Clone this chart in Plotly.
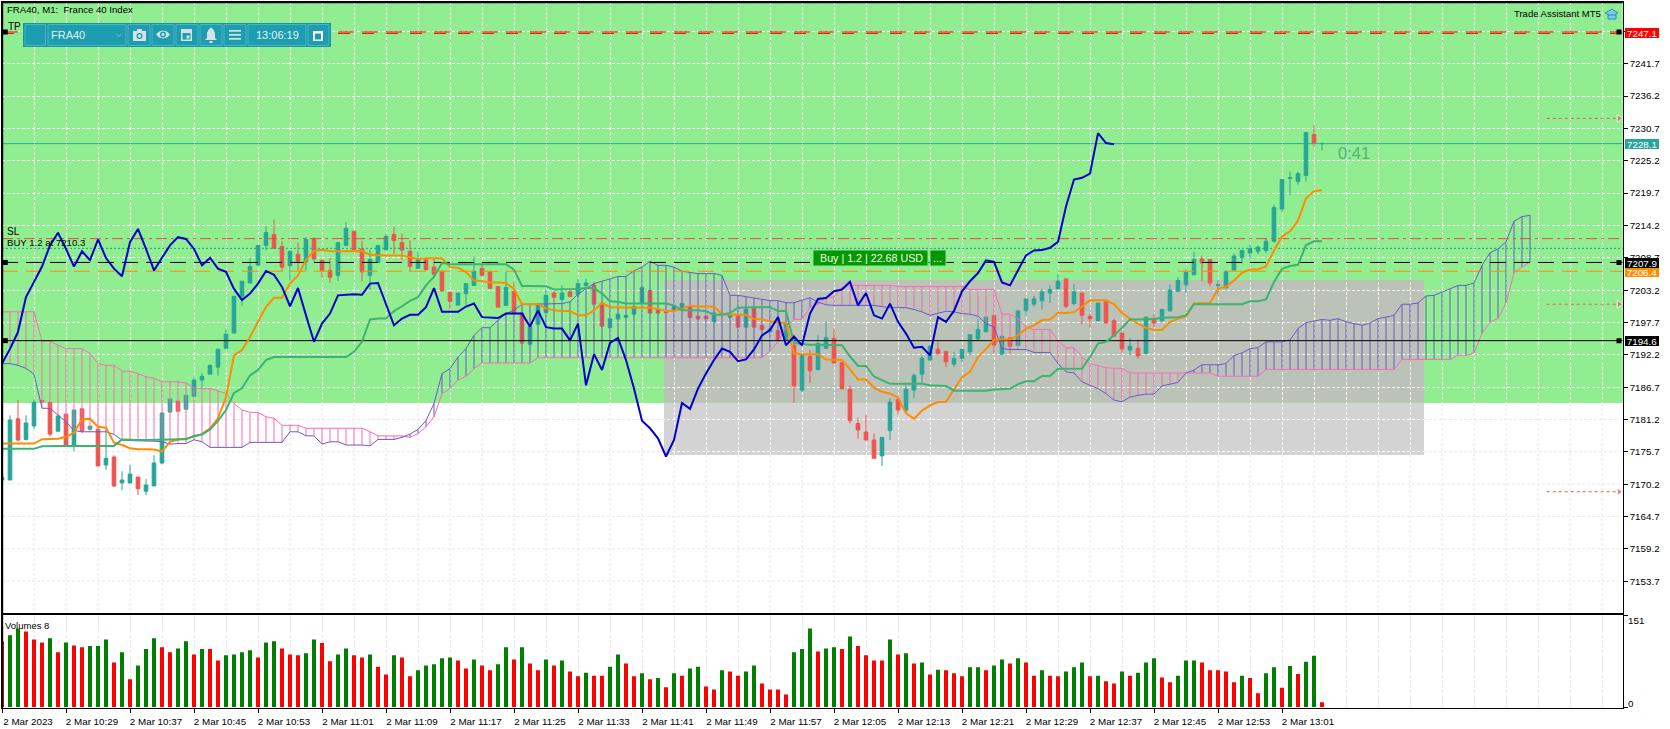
import plotly.graph_objects as go

opens = [7170.9,7170.9,7181.3,7177.8,7180.1,7184.4,7184.1,7179.2,7182.1,7176.85,
7183,7179.55,7179.55,7173.45,7174.8,7170.4,7170.4,7171.4,7169,7169.9,
7173.8,7182.45,7184.3,7182.95,7185.15,7187.9,7188.9,7190.1,7193.3,7195.9,
7202.15,7204.4,7207.45,7210.8,7212.65,7210.6,7207.4,7209.3,7208,7211.8,
7208.25,7206.55,7205.7,7210.8,7213.2,7210.2,7205.7,7207.9,7210.05,7212.65,
7211.3,7209.8,7206.9,7208.35,7207.1,7206.4,7202.8,7200.65,7202.6,7204,
7206.9,7206.25,7203.8,7200.6,7203,7199.3,7194,7197.4,7199.4,7202.7,
7201.6,7202.9,7202.5,7204,7204,7201,7196.8,7198.3,7198.6,7199.1,
7201,7203.15,7199.85,7199.6,7199.75,7199.8,7200.3,7198.75,7198.75,7197.8,
7199.05,7198.6,7198.9,7196.9,7200.1,7197.2,7196.1,7196.3,7194.7,7193.8,
7186.2,7191.9,7189.7,7193.3,7195,7190.9,7186.3,7180.5,7179.05,7177.7,
7175,7179.3,7184.6,7182.7,7186.2,7188.9,7191.3,7193.15,7192.75,7190.6,
7191.6,7192.7,7194.9,7196.1,7198.9,7192.3,7195.1,7193.8,7199.75,7200.8,
7201.4,7202.7,7203.4,7205.1,7200.9,7202.7,7198.7,7198,7201.2,7198,
7195.9,7193,7193.3,7192.4,7198.35,7198,7199.65,7203,7204.1,7205.8,
7208.5,7208.4,7204,7203.6,7206.6,7208.7,7209.5,7209.8,7209.95,7211.5,
7217,7222.2,7221.65,7222.7,7229.65,7228.1]
highs = [7171.5,7181.9,7184.5,7181.9,7184.65,7184.5,7184.2,7181.8,7182.2,7182.8,
7183,7180.1,7179.6,7179.4,7175.1,7172.4,7173.45,7171.4,7171.05,7175.1,
7182.3,7184.65,7184.3,7185.3,7188.4,7189.1,7190.4,7193.15,7196.55,7202.15,
7204.7,7208.7,7210.8,7214.05,7215.2,7211.5,7209.8,7211.3,7212.2,7212.2,
7208.5,7208.7,7211.3,7214.8,7213.2,7211.6,7210.1,7210.8,7212.8,7214,
7212.8,7211.65,7209.7,7208.4,7208.5,7206.4,7202.8,7202.7,7204.3,7208.9,
7207.7,7206.5,7203.8,7206.25,7204.6,7199.3,7197,7200.8,7203.3,7203,
7204,7203.2,7205.1,7205.1,7204.6,7201,7198.3,7199.1,7198.9,7200.4,
7203.7,7203.2,7199.9,7199.6,7200.4,7200.9,7200.4,7198.75,7198.75,7199.3,
7199.3,7199,7198.9,7199.9,7200.1,7197.2,7196.6,7196.3,7197.5,7195.5,
7192.1,7193,7195.5,7197.8,7196.7,7190.9,7187,7181.5,7182,7178.8,
7178.15,7184.8,7184.8,7187,7189,7192.1,7193.9,7194.7,7192.75,7192.7,
7193.1,7195.6,7198.3,7198.7,7198.9,7195.35,7195.1,7199.7,7201.7,7202.2,
7203.4,7204,7206,7205.1,7204.2,7202.7,7199.2,7201,7201.2,7198.3,
7195.9,7195,7194.8,7198.6,7199.2,7200,7204.1,7205.4,7206.8,7209.7,
7209.1,7208.4,7204.85,7206.6,7209.4,7209.95,7210.9,7210.8,7211.9,7217.75,
7222,7223.35,7223.35,7230,7231.2,7228.2]
lows = [7170.7,7170.9,7177.6,7177.6,7179.6,7184.1,7178.3,7179.2,7176.8,7175.8,
7178.9,7179.5,7173.3,7172.6,7169.7,7169.2,7170.4,7168.35,7168.35,7169.9,
7173.6,7182.4,7182.6,7182.9,7185.1,7186.6,7188.9,7188.65,7193.1,7195.9,
7200.5,7204.4,7207.4,7209.95,7210.3,7206.3,7204.85,7206.55,7206.55,7208,
7205.25,7204.4,7204.75,7210.8,7210.1,7204.7,7203.2,7207.9,7210.05,7209.3,
7208.25,7206.3,7206.9,7206.65,7205.9,7203.05,7199.9,7200.65,7200.6,7204,
7205.7,7203.5,7200.3,7200.6,7199.3,7194.2,7194,7197.4,7199.4,7200.8,
7201,7202.1,7202,7203.5,7200.8,7197.05,7196.8,7198.3,7198.6,7199.1,
7201,7199.3,7199.3,7199.4,7199.75,7199.8,7198.5,7198.3,7198.3,7197.8,
7198.9,7198.6,7196.9,7196.9,7196.9,7196.5,7196.1,7194.7,7194.7,7184,
7185.9,7187.4,7189.5,7193.3,7190.7,7186.4,7180.5,7177.9,7177.7,7174.6,
7173.3,7177.7,7182,7182.7,7184.8,7187.3,7191.3,7192.1,7190.1,7190.1,
7191,7192.1,7194.6,7196.1,7192.4,7192.3,7192.4,7193.8,7198.9,7200.4,
7199.9,7201,7203.4,7200.2,7200.6,7197.4,7196.8,7198,7197.6,7195.35,
7192.5,7192.1,7191.5,7192.4,7196.9,7197.7,7199.65,7203,7202.7,7205.8,
7204.7,7203.8,7202.3,7203.3,7206.6,7207.7,7208.4,7209.3,7209.5,7211.3,
7216.5,7219.3,7221.15,7221.65,7227.6,7226.9]
closes = [7171.35,7181.1,7177.7,7180.6,7184.1,7184.2,7178.7,7181.8,7176.85,7182.8,
7179.2,7180.05,7173.3,7174.6,7169.9,7170.9,7171.9,7169.4,7170.05,7173.8,
7182.3,7184.65,7182.6,7185.3,7187.9,7188.55,7190.4,7193.15,7195.7,7202.15,
7204.7,7207.2,7210.8,7213,7210.3,7207.1,7209.8,7208.1,7211.8,7208.5,
7206.55,7205.4,7211.3,7213.7,7210.1,7206.3,7208.4,7210.8,7212.3,7211.65,
7210,7207.25,7208.5,7206.65,7205.9,7203.05,7201.3,7202.7,7204.3,7206.4,
7205.7,7203.5,7200.3,7203.65,7199.3,7194.2,7197,7200.8,7202.3,7202,
7202.7,7202.1,7204.3,7204.4,7200.8,7197.05,7198.3,7199.1,7198.9,7200.4,
7203.6,7199.3,7199.3,7199.4,7200.4,7200.9,7198.55,7198.3,7198.3,7199.3,
7199.2,7198.9,7196.9,7199.9,7196.9,7196.5,7196.6,7194.7,7197.5,7186.9,
7192.1,7189.5,7194.1,7195.1,7190.8,7186.4,7181,7179.4,7177.7,7174.6,
7178.15,7184.15,7182.8,7186.3,7188.7,7191.6,7193.65,7192.4,7191,7191.55,
7193.1,7195.6,7196.5,7198.6,7193.9,7195.35,7193.65,7199.65,7201.7,7201.7,
7202.9,7203.3,7204.7,7200.45,7202.9,7198.9,7198.3,7201,7197.6,7195.35,
7193.2,7193.65,7192,7198.6,7197.6,7199.9,7203.2,7204.85,7206.2,7208.4,
7207.8,7204.4,7204.1,7206.3,7209,7209.95,7210.25,7210.5,7211.5,7217.25,
7222,7222.3,7223,7230,7228.2,7228.15]

chikou = [7190.7,7193.2,7196.1,7202,7204.6,7207.2,7210.8,7212.95,7210.2,7207.2,
7209.8,7208.3,7211.8,7208.65,7206.85,7205.55,7211.35,7213.6,7210.2,7206.55,
7208.7,7210.8,7212.2,7211.9,7210.2,7207.4,7208.7,7206.85,7206.3,7203.4,
7201.5,7202.6,7204.3,7206.45,7205.8,7203.75,7200.45,7203.55,7198.9,7194.4,
7197.5,7199.2,7202.3,7202.4,7202.5,7202.4,7204.3,7204.4,7200.9,7197.2,
7198.35,7199,7199,7200.3,7203.55,7199.5,7199.5,7199.5,7200.4,7200.9,
7198.6,7198.5,7198.45,7199.2,7199.2,7199.2,7197,7199.75,7196.9,7196.65,
7196.65,7194.65,7197.5,7187,7192.3,7189.6,7194.2,7195.05,7191.3,7186.45,
7181,7179.7,7178,7174.9,7177.7,7184,7183,7186.45,7189,7191.3,
7193.25,7192.7,7191.1,7191.4,7193.1,7195.5,7196.4,7198.6,7193.8,7195.3,
7193.8,7199.2,7201.7,7201.85,7203,7203.3,7204.6,7200.6,7202.7,7198.9,
7198.35,7200.9,7197.8,7195.8,7193.4,7193.55,7192.1,7198.6,7197.8,7199.65,
7203,7204.7,7206.1,7208.25,7208,7204.5,7204,7206.55,7209.1,7209.95,
7210,7210.4,7211.4,7217.4,7222,7222.3,7223,7229.9,7228.2,7228]

tenkan = [7177.1,7177.1,7177.1,7177.1,7177.1,7177.85,7177.9,7177.9,7178.25,7178.95,
7181.25,7181.3,7179.95,7179.8,7177.25,7176.85,7176.3,7176.15,7176.15,7176.1,
7175.75,7177.4,7177.8,7177.9,7178.3,7178.7,7179.7,7181.4,7185,7192.1,
7193,7195.2,7197.8,7200.3,7201.9,7201.9,7204.3,7205.7,7208.3,7209.85,
7210.05,7209.85,7209.8,7209.8,7209.8,7209.85,7209.2,7209.1,7209.1,7209.1,
7209.1,7208.8,7208.5,7208.6,7208.6,7208.6,7207.1,7207,7206.25,7204.85,
7204.7,7204.5,7204.5,7204.4,7203.4,7200.8,7200.8,7200.8,7200.1,7199.75,
7199.65,7199.65,7198.9,7198.9,7199.75,7201,7200.3,7200.3,7200.3,7200.3,
7200.3,7200.2,7200,7199.65,7199.65,7200,7200.55,7200.4,7200.4,7200.4,
7199.1,7199,7199,7199,7198.3,7198.2,7197.9,7197.6,7197.6,7192.4,
7192.3,7192.3,7192.3,7191.4,7191.3,7191.3,7189.7,7188,7188,7186.6,
7185.9,7185.6,7184.9,7182.3,7181.3,7182.7,7183.6,7184.15,7184.2,7186.3,
7188.4,7189.3,7191.8,7193.2,7194.7,7194.8,7194.8,7195.5,7196.65,7197.2,
7198.1,7198.2,7199.3,7199.3,7199.45,7200.4,7201.45,7201.45,7201.45,7200.8,
7199.3,7198.35,7197.5,7196.8,7196.4,7196.4,7197.8,7198.35,7198.7,7200.9,
7200.9,7201,7203.4,7203.8,7204.85,7206.15,7206.7,7206.7,7207.2,7209.95,
7212.3,7213.2,7215,7218.8,7220,7220.2]

kijun = [7176.2,7176.2,7176.2,7176.2,7176.2,7176.65,7176.7,7176.7,7176.7,7176.7,
7176.7,7176.7,7176.7,7176.7,7176.7,7177.8,7177.7,7177.7,7177.7,7177.7,
7177.7,7177.8,7177.85,7177.85,7178.4,7178.65,7179.5,7180.95,7182.8,7185.7,
7186.5,7188.7,7189.6,7191.3,7191.8,7191.8,7191.8,7191.8,7191.8,7191.8,
7191.8,7191.8,7191.8,7191.8,7192.7,7194.4,7198.2,7198.35,7198.35,7199.65,
7200.45,7201.35,7202,7204,7205.5,7207.8,7207.6,7207.6,7207.6,7207.6,
7207.6,7207.6,7207.6,7207.6,7206.65,7203.9,7203.9,7203.9,7203.85,7203.3,
7203.3,7203.3,7203.4,7203.55,7203.55,7202.6,7201.3,7201.2,7200.9,7200.9,
7200.9,7200.9,7200.9,7200.9,7200.6,7199.75,7199.75,7199.75,7199.6,7199,
7199,7199.3,7200.2,7200.3,7200.3,7200.3,7200.3,7199.65,7199.65,7194.2,
7194,7193.9,7193.9,7193.9,7193.9,7193.8,7191.9,7190.3,7190.3,7188.5,
7187.9,7187.25,7187.25,7187.25,7187.25,7187.25,7187,7187,7186.9,7186.1,
7186.1,7186.1,7186.1,7186.1,7186.3,7186.4,7186.4,7187.2,7187.7,7187.7,
7188.6,7188.6,7189.8,7189.8,7189.8,7189.8,7191.8,7194.1,7194.4,7195.5,
7196.8,7198.2,7198.2,7198.2,7198.3,7198.5,7198.6,7198.6,7198.9,7200.8,
7200.8,7200.8,7200.8,7200.8,7200.8,7200.8,7201.3,7201.3,7201.6,7204.6,
7206.8,7207.3,7207.5,7210.85,7211.5,7211.5]

span_pink = [7199.5,7199.5,7199.5,7199.5,7199.5,7194.55,7194.55,7193.8,7193.25,7193.25,
7193.25,7192.4,7190.7,7190.4,7190.4,7189.4,7189.4,7189,7188.45,7188.2,
7187.6,7187.6,7187.6,7187.4,7186.6,7186.45,7186.45,7186.05,7185.6,7183.9,
7182.8,7182.4,7182.4,7181.65,7181.4,7180.2,7180.2,7180.2,7179.7,7179.7,
7179.7,7179.7,7179.7,7179.7,7179.7,7179.7,7179.1,7178.4,7178.4,7178.4,
7178.4,7178.15,7178.8,7179.95,7181.65,7185.6,7186.45,7187.9,7188.55,7189.85,
7190.8,7190.8,7190.8,7190.8,7190.8,7190.8,7190.8,7191.7,7191.7,7191.7,
7191.7,7191.7,7191.7,7191.7,7191.7,7191.7,7191.7,7191.7,7191.7,7191.7,
7191.7,7191.7,7191.7,7191.7,7191.7,7191.7,7191.7,7191.7,7191.7,7191.7,
7191.7,7191.7,7191.7,7191.7,7191.7,7191.7,7192.85,7194.4,7196.9,7198.2,
7198.2,7200.3,7200.8,7202,7202,7203.7,7204,7204,7204,7204,
7204,7204,7203.8,7203.8,7203.8,7203.8,7203.8,7203.8,7203.8,7203.8,
7203.8,7203.3,7203.3,7203.3,7203.3,7199.1,7199.1,7198.35,7196.9,7196.5,
7196.5,7196.5,7194.55,7193.4,7193.4,7191.8,7190.7,7190.3,7190,7189.9,
7189.9,7189.1,7189.1,7189.1,7189.1,7189.1,7189.1,7189.1,7189.1,7189.1,
7189.1,7189.1,7188.55,7188.55,7188.55,7188.55,7188.55,7188.55,7189.7,7189.7,
7189.7,7189.7,7189.7,7189.7,7189.7,7189.7,7189.7,7189.7,7189.7,7189.7,
7189.7,7189.7,7189.7,7189.7,7189.7,7191.4,7191.4,7191.4,7191.4,7191.4,
7191.4,7191.4,7192.1,7192.1,7192.5,7195.8,7197.8,7198.35,7201,7206.15,
7207.1,7208]

span_purple = [7190.7,7190.7,7190.4,7189.9,7188.9,7183.1,7183.1,7181.9,7180.8,7179.3,
7179.1,7179.1,7179.1,7179.1,7178.65,7177.7,7177.6,7177.6,7177.6,7177.5,
7177.4,7177,7177.1,7177.1,7177.75,7177.4,7176.45,7176.45,7176.45,7176.45,
7176.45,7177.3,7177.3,7177.3,7177.4,7177.3,7179.1,7179.1,7178.4,7178.4,
7177,7177.4,7177.4,7176.85,7176.85,7176.85,7176.7,7177.8,7177.8,7177.8,
7178.15,7178.7,7179.5,7181,7183.9,7189,7189.85,7191.8,7193.25,7195.5,
7196.8,7196.8,7198.05,7199.2,7199.75,7200.8,7200.8,7200.8,7200.8,7200.9,
7200.9,7201.2,7202.5,7203.45,7204.3,7204.7,7205.1,7205.5,7205.5,7206.5,
7207.1,7208.1,7207.4,7207.4,7207.1,7206.4,7206.2,7206,7206,7206,
7205.7,7202.3,7202.3,7202.1,7201.9,7201.6,7201.4,7201.4,7201.05,7201.05,
7201.45,7201.9,7201.15,7200.7,7200.6,7200.6,7200.6,7200.6,7200.6,7200.6,
7200.4,7200.2,7200.2,7200.2,7199.9,7199.5,7198.9,7199.2,7199.6,7199.5,
7199.2,7199.1,7198.75,7197.5,7196.9,7193.25,7193.1,7193.1,7193.1,7192.6,
7192.6,7192.6,7190.7,7189.3,7189.1,7187.6,7187,7186.45,7185.6,7184.5,
7184.2,7185,7185.3,7185.5,7185.5,7186.9,7187.2,7187.5,7189.1,7189.6,
7190.5,7190.5,7190.5,7190.7,7192.1,7192.5,7193.25,7193.4,7194.4,7194.4,
7194.4,7194.7,7196.65,7197.65,7197.95,7198.2,7198.05,7198.35,7197.8,7197.5,
7197.2,7197.6,7198.35,7198.6,7198.9,7200.8,7200.8,7201,7202.2,7202.3,
7202.8,7203.4,7204,7204,7204.4,7207.4,7209.55,7210.2,7211.4,7214.9,
7215.7,7215.9]

volumes = [109,119,130,125,112,107,114,91,107,102,99,101,101,112,74,91,46,69,96,114,
99,91,97,109,87,96,96,77,86,87,91,94,82,107,109,97,87,86,89,112,
106,76,87,97,86,82,87,67,54,86,82,51,61,69,71,81,82,77,64,79,
69,61,71,99,79,99,72,61,79,69,77,59,51,57,52,52,67,87,72,51,
56,46,48,33,56,52,64,67,34,29,61,59,52,59,69,39,29,29,21,91,
96,130,92,97,99,96,117,101,86,77,77,112,87,89,72,74,54,62,61,56,
51,66,66,61,69,79,72,81,74,52,61,52,51,59,66,74,51,52,43,39,
59,52,57,74,81,49,41,52,77,77,74,61,61,59,41,52,48,23,56,66,
32,68,55,75,85,8]
vol_flags = ("r g g r r r g r g r r g g g r g r g g g "
             "r r g g r g r r g g g g r g g r r r g g "
             "r r g g r r g r r g r r g g g g g r r g "
             "r r g g r g r r g r g r r g r r g g r r "
             "g r g r g r g g r r g r r g g r r r r g "
             "g g r g g r g r r r r g r g r g r g r r "
             "r g g r g g r g r r g r r g g g r g r r "
             "g r g g g r r g g g r r r r r g r r g g "
             "r g r g g r").split()

time_labels = ["2 Mar 2023","2 Mar 10:29","2 Mar 10:37","2 Mar 10:45","2 Mar 10:53","2 Mar 11:01",
               "2 Mar 11:09","2 Mar 11:17","2 Mar 11:25","2 Mar 11:33","2 Mar 11:41","2 Mar 11:49",
               "2 Mar 11:57","2 Mar 12:05","2 Mar 12:13","2 Mar 12:21","2 Mar 12:29","2 Mar 12:37",
               "2 Mar 12:45","2 Mar 12:53","2 Mar 13:01"]
price_ticks = [7247.2,7241.7,7236.2,7230.7,7225.2,7219.7,7214.2,7208.7,7203.2,7197.7,7192.2,
               7186.7,7181.2,7175.7,7170.2,7164.7,7159.2,7153.7]

tp_price = 7247.1
sl_price = 7211.95
buy_price = 7210.3
bid_price = 7228.1
black_dash_price = 7207.9
orange_price = 7206.4
black_solid_price = 7194.6
alert_prices = [7232.4, 7200.8, 7168.9]

W, H = 1670, 729
LEFT, RIGHT = 2, 1622.7
MAIN_TOP, MAIN_BOTTOM = 2, 613.3
VOL_TOP, VOL_BOTTOM = 615.3, 708
BAR_PX = 8
X_MAX = (RIGHT - LEFT) / BAR_PX


def px(x):
    return x / W


def py(y):
    return 1 - y / H


def price_at(y):
    return 7241.7 - (y - 63.7) / 5.88


def bar_at(x):
    return (x - LEFT) / BAR_PX


GREEN_BG = "#90EE90"
TEAL = "#26A69A"
RED = "#EF5350"
PINK = "#FF69B4"
PURPLE = "#6A5ACD"
FONT = "Liberation Sans"
FS = 9.8

fig = go.Figure()
n_cloud = len(span_pink)
hatch_pink_x, hatch_pink_y, hatch_purple_x, hatch_purple_y = [], [], [], []
for i in range(n_cloud):
    a, b = span_pink[i], span_purple[i]
    if a >= b:
        hatch_pink_x += [i, i, None]
        hatch_pink_y += [a, b, None]
    else:
        hatch_purple_x += [i, i, None]
        hatch_purple_y += [a, b, None]


def line(x, y, color, width, dash="solid", shape="linear"):
    fig.add_trace(go.Scatter(x=x, y=y, mode="lines", hoverinfo="skip", showlegend=False,
                             line=dict(color=color, width=width, dash=dash, shape=shape),
                             xaxis="x", yaxis="y"))


line(hatch_pink_x, hatch_pink_y, PINK, 1)
line(hatch_purple_x, hatch_purple_y, PURPLE, 1)
line(list(range(n_cloud)), span_pink, PINK, 1)
line(list(range(n_cloud)), span_purple, PURPLE, 1)

ends = [0, X_MAX]
line(ends, [sl_price] * 2, "#F0453F", 1, "11px,4px,3px,4px")
line(ends, [buy_price] * 2, "#1E9AA0", 1, "2px,2px")
line(ends, [bid_price] * 2, TEAL, 1)
line(ends, [orange_price] * 2, "#FF8C00", 1, "16px,8px")
line(ends, [tp_price] * 2, "#FF0000", 1, "16px,8px")
line(ends, [tp_price - 0.25] * 2, "#FF0000", 1, "12px,12px")

fig.add_trace(go.Candlestick(
    x=list(range(len(opens))), open=opens, high=highs, low=lows, close=closes,
    increasing=dict(line=dict(color=TEAL, width=1), fillcolor=TEAL),
    decreasing=dict(line=dict(color=RED, width=1), fillcolor=RED),
    whiskerwidth=0, hoverinfo="skip", showlegend=False, xaxis="x", yaxis="y"))

line(ends, [black_dash_price] * 2, "#000000", 1, "16px,8px")
line(ends, [black_solid_price] * 2, "#000000", 1)
line(list(range(len(tenkan))), tenkan, "#FF8C00", 2)
line(list(range(len(kijun))), kijun, "#3CB371", 2)
line(list(range(len(chikou))), chikou, "#0000CD", 2)

for p in alert_prices:
    fig.add_trace(go.Scatter(x=[bar_at(1546.7), bar_at(1619)], y=[p, p], mode="lines+markers",
                             hoverinfo="skip", showlegend=False, xaxis="x", yaxis="y",
                             line=dict(color=RED, width=1, dash="3px,3px"),
                             marker=dict(symbol="triangle-right", size=[0, 7], color=RED)))

hx = [bar_at(5.3), bar_at(1619)]
for p, c in [(tp_price, "#000000"), (black_dash_price, "#000000"), (black_solid_price, "#000000")]:
    fig.add_trace(go.Scatter(x=hx, y=[p, p], mode="markers", hoverinfo="skip", showlegend=False,
                             marker=dict(symbol="square", size=5, color=c), xaxis="x", yaxis="y"))

fig.add_trace(go.Bar(x=list(range(len(volumes))), y=volumes, width=0.5, hoverinfo="skip",
                     marker=dict(color=["#008000" if f == "g" else "#FF0000" for f in vol_flags],
                                 line=dict(width=0)),
                     showlegend=False, xaxis="x2", yaxis="y2"))

shapes = []


def rect(x0, y0, x1, y1, fill, layer="below", linecolor=None, lw=0):
    shapes.append(dict(type="rect", xref="paper", yref="paper", x0=px(x0), x1=px(x1), y0=py(y0), y1=py(y1),
                       fillcolor=fill, layer=layer,
                       line=dict(color=linecolor or fill, width=lw)))


GRAY_L, GRAY_R, GRAY_T, GREEN_B, GRAY_B = 664, 1424, 280, 403, 455
rect(LEFT, MAIN_TOP, RIGHT, GREEN_B, GREEN_BG)
rect(GRAY_L, GRAY_T, GRAY_R, GREEN_B, "#BBC2B8")
rect(GRAY_L, GREEN_B, GRAY_R, GRAY_B, "#D3D3D3")

GRID_GREY = "#E8E8E8"
grid_dash = "3px,2px"
grid_x = list(range(4, int(X_MAX) + 1, 4))
for gx in grid_x:
    xp = LEFT + gx * BAR_PX
    top = GRAY_B if GRAY_L < xp < GRAY_R else GREEN_B
    shapes.append(dict(type="line", xref="x", yref="y", x0=gx, x1=gx, y0=price_at(top), y1=price_at(MAIN_BOTTOM),
                       layer="between", line=dict(color=GRID_GREY, width=1, dash=grid_dash)))
for t in price_ticks:
    if t < price_at(GREEN_B):
        if t < price_at(GRAY_B):
            segs = [(0, X_MAX)]
        else:
            segs = [(0, bar_at(GRAY_L)), (bar_at(GRAY_R), X_MAX)]
        for a, b in segs:
            shapes.append(dict(type="line", xref="x", yref="y", x0=a, x1=b, y0=t, y1=t, layer="between",
                               line=dict(color=GRID_GREY, width=1, dash=grid_dash)))

# heavier top and left chart edge
rect(LEFT, MAIN_TOP, LEFT + 1.2, VOL_BOTTOM, "#000000", "above")
rect(LEFT, MAIN_TOP, RIGHT, MAIN_TOP + 1.2, "#000000", "above")

# toolbar
BAR_FILL = "#1796AB"
BTN_FILL = "#1C9DB0"
BTN_EDGE = "#4DB3C2"
rect(23, 23, 331, 47, BAR_FILL, "above")
ICON = "#D5E3E6"
for x0, x1 in [(25, 45.5), (48, 126), (128, 150), (152, 174), (176, 198), (200, 222), (224, 246), (248, 306), (308, 329)]:
    rect(x0, 24.5, x1, 45.5, BTN_FILL, "above", BTN_EDGE, 1)


def path(d, fill=ICON, layer="above", lw=0, color=None):
    shapes.append(dict(type="path", xref="paper", yref="paper", path=d, fillcolor=fill, layer=layer,
                       line=dict(color=color or fill, width=lw)))


def poly(points, **kw):
    d = "M " + " L ".join(f"{px(a):.5f},{py(b):.5f}" for a, b in points) + " Z"
    path(d, **kw)


def circle(cx, cy, r, fill):
    shapes.append(dict(type="circle", xref="paper", yref="paper", x0=px(cx - r), x1=px(cx + r), y0=py(cy - r), y1=py(cy + r),
                       fillcolor=fill, layer="above", line=dict(width=0)))


# camera
rect(133, 31, 146, 41, ICON, "above")
rect(137, 29, 142, 31, ICON, "above")
circle(139.5, 36, 3, BTN_FILL)
circle(139.5, 36, 1.7, ICON)
# eye
poly([(156, 34.5), (159, 31.5), (163, 30.5), (167, 31.5), (170, 34.5), (167, 37.5), (163, 38.5), (159, 37.5)])
circle(163, 34.5, 3, BTN_FILL)
circle(163, 34.5, 1.6, ICON)
# calendar
rect(181, 29, 192, 41, ICON, "above")
rect(182.5, 33, 190.5, 39.5, BTN_FILL, "above")
rect(186.5, 35.5, 189.5, 38.5, ICON, "above")
# bell
poly([(211, 27.5), (213, 29), (215, 33), (215, 38), (217, 40), (205, 40), (207, 38), (207, 33), (209, 29)])
rect(209.5, 41, 212.5, 43, ICON, "above")
# menu
for yy in (30, 34, 38):
    rect(229, yy, 241, yy + 1.7, ICON, "above")
# window
rect(313, 31, 323, 41, "#FFFFFF", "above")
rect(315, 33.5, 321, 39.5, BTN_FILL, "above")
# chevron
poly([(116, 33.5), (118.5, 36), (121, 33.5), (121, 34.7), (118.5, 37.2), (116, 34.7)], fill="#5FB9C7")
# cap icon
poly([(1612, 9), (1618, 13), (1612, 16.5), (1605, 13)], fill="#7EC8E8", lw=1, color="#2C8FBF")
rect(1608, 15, 1616, 19, "#7EC8E8", "above", "#2C8FBF", 1)
# buy buttons
rect(813, 250, 928, 266, "#009900", "above", "#9BD9A0", 1)
rect(930, 250, 946, 266, "#009900", "above", "#9BD9A0", 1)

annotations = []


def label(x, y, text, color="#000000", size=FS, anchor="left", bg=None, width=None, height=None, align=None):
    d = dict(xref="paper", yref="paper", x=px(x), y=py(y), text=text, showarrow=False, xanchor=anchor, yanchor="middle",
             font=dict(family=FONT, size=size, color=color), borderpad=0, borderwidth=0)
    if bg:
        d["bgcolor"] = bg
    if width:
        d["width"] = width
    if height:
        d["height"] = height
    if align:
        d["align"] = align
    annotations.append(d)


label(6.5, 9.5, "FRA40, M1:  France 40 Index", size=9.6)
label(8, 27, "TP", size=10)
label(7, 232, "SL", size=10)
label(7, 243, "BUY 1.2 at 7210.3", size=9.6)
label(1514, 13.5, "Trade Assistant MT5", size=9.5)
label(1338, 153, "0:41", color="#55B07F", size=16.5)
label(51, 35, "FRA40", color="#E3F1F3", size=11)
label(277, 35, "13:06:19", color="#E3F1F3", size=11, anchor="center")
label(820, 258, "Buy | 1.2 | 22.68 USD", color="#FFFFE0", size=10.7)
label(938, 258, "...", color="#FFFFE0", size=11, anchor="center")
label(5, 625, "Volumes 8", size=9.5)
label(1628, 620.5, "151", size=FS)
label(1628, 703, "0", size=FS)

for p, txt, bg, col, yy in [(orange_price, "7206.4", "#FF8C00", "#FFFFFF", 272),
                            (tp_price, "7247.1", "#FF0000", "#FFFFFF", 32.7),
                            (bid_price, "7228.1", TEAL, "#FFFFFF", 144.5),
                            (black_dash_price, "7207.9", "#000000", "#FFFFFF", 263.5),
                            (black_solid_price, "7194.6", "#000000", "#FFFFFF", 341.3)]:
    label(1625, yy, txt, color=col, size=FS, bg=bg, width=34, height=10, align="center")

fig.update_layout(
    width=W, height=H, margin=dict(l=0, r=0, t=0, b=0), autosize=False,
    paper_bgcolor="#FFFFFF", plot_bgcolor="rgba(0,0,0,0)", showlegend=False,
    boxgap=0.35, bargap=0.5,
    shapes=shapes, annotations=annotations,
    font=dict(family=FONT, size=FS, color="#000000"),
    xaxis=dict(domain=[px(LEFT), px(RIGHT)], range=[0, X_MAX], anchor="y", showticklabels=False,
               rangeslider=dict(visible=False), zeroline=False, tickmode="array",
               tickvals=grid_x, showgrid=True, gridcolor="#FFFFFF", griddash=grid_dash, gridwidth=1,
               showline=True, mirror=True, linecolor="#000000", linewidth=1, ticks=""),
    yaxis=dict(domain=[py(MAIN_BOTTOM), py(MAIN_TOP)], range=[price_at(MAIN_BOTTOM), price_at(MAIN_TOP)],
               anchor="x", side="right", tickmode="array", tickvals=price_ticks,
               ticktext=[f"{t:.1f}" for t in price_ticks],
               showgrid=True, gridcolor="#FFFFFF", griddash=grid_dash, gridwidth=1, zeroline=False,
               showline=True, mirror=True, linecolor="#000000", linewidth=1, ticks="outside", ticklen=4,
               tickcolor="#000000", tickfont=dict(family=FONT, size=FS, color="#000000")),
    xaxis2=dict(domain=[px(LEFT), px(RIGHT)], range=[0, X_MAX], anchor="y2", tickmode="array",
                tickvals=list(range(0, 8 * len(time_labels), 8)), ticktext=time_labels,
                ticklabelshift=26, ticks="outside", ticklen=4, tickcolor="#000000",
                tickfont=dict(family=FONT, size=FS, color="#000000"), showgrid=True, gridcolor=GRID_GREY,
                griddash=grid_dash, zeroline=False, showline=True, mirror=True, linecolor="#000000", linewidth=1,
                minor=dict(tickmode="array", tickvals=grid_x, showgrid=True, gridcolor=GRID_GREY, griddash=grid_dash, ticks="")),
    yaxis2=dict(domain=[py(VOL_BOTTOM), py(VOL_TOP)], range=[-1.5, 152], anchor="x2", side="right",
                tickmode="array", tickvals=[0, 151], showticklabels=False, ticks="outside", ticklen=4,
                tickcolor="#000000", showgrid=False, zeroline=False, showline=True, mirror=True,
                linecolor="#000000", linewidth=1),
)

fig.write_html("out.html", config=dict(displayModeBar=False),
               post_script="document.body.style.margin='0';document.body.style.overflow='hidden';")
